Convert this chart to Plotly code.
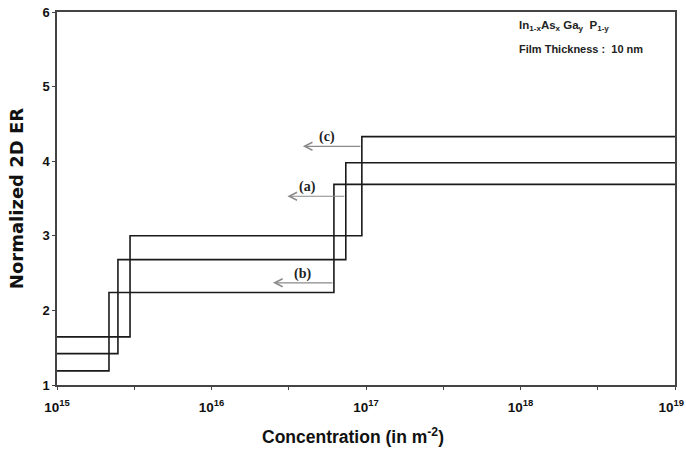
import math
import plotly.graph_objects as go

# ---- data ----
x_start = 1e15
x_end = 1e19
series_names = ["(a)", "(b)", "(c)"]
step_x_a = [2.48e15, 7.4e16]
step_y_a = [1.42, 2.68, 3.98]
step_x_b = [2.17e15, 6.2e16]
step_y_b = [1.19, 2.24, 3.69]
step_x_c = [2.97e15, 9.4e16]
step_y_c = [1.645, 3.0, 4.33]
x_tickvals = [1e15, 1e16, 1e17, 1e18, 1e19]
x_ticktext = ["10<sup>15</sup>", "10<sup>16</sup>", "10<sup>17</sup>", "10<sup>18</sup>",
              "10<sup>19</sup>&nbsp;&nbsp;"]
x_minor = [10**15.5, 10**16.5, 10**17.5, 10**18.5]
y_tickvals = [1, 2, 3, 4, 5, 6]

FONT = "Liberation Sans, Arial, sans-serif"
WIDE = "DejaVu Sans, Liberation Sans, sans-serif"
SERIF = "Liberation Serif, Times New Roman, serif"

fig = go.Figure()

def add_step(sx, sy):
    xs = [x_start] + sx + [x_end]
    ys = sy + [sy[-1]]
    fig.add_trace(go.Scatter(x=xs, y=ys, mode="lines", line_shape="hv",
                             line=dict(color="#1a1a1a", width=1.6),
                             showlegend=False, hoverinfo="skip", cliponaxis=False))

add_step(step_x_a, step_y_a)
add_step(step_x_b, step_y_b)
add_step(step_x_c, step_y_c)

# arrows (tail at the second step of each curve, pointing left)
arrows = [
    (step_x_c[1], 3.9e16, 4.2, "(c)", 5.6e16, 4.32),
    (step_x_a[1], 3.1e16, 3.53, "(a)", 4.2e16, 3.65),
    (step_x_b[1], 2.5e16, 2.37, "(b)", 3.9e16, 2.49),
]
for tail_x, head_x, y, label, lx, ly in arrows:
    fig.add_annotation(x=math.log10(head_x), y=y, ax=math.log10(tail_x), ay=y,
                       xref="x", yref="y", axref="x", ayref="y",
                       showarrow=True, arrowhead=5, arrowsize=1.3, arrowwidth=1.2,
                       arrowcolor="#8a8a8a", text="")
    fig.add_annotation(x=math.log10(lx), y=ly, xref="x", yref="y", text="<b>" + label + "</b>",
                       showarrow=False, font=dict(family=SERIF, size=14, color="#222"))

fig.add_annotation(x=0.745, y=0.962, xref="paper", yref="paper", xanchor="left", yanchor="middle",
                   text="<b>In<sub>1-x</sub>As<sub>x</sub> Ga<sub>y</sub>  P<sub>1-y</sub></b>",
                   showarrow=False, font=dict(family=FONT, size=11.5, color="#222"))
fig.add_annotation(x=0.745, y=0.9, xref="paper", yref="paper", xanchor="left", yanchor="middle",
                   text="<b>Film Thickness :  10 nm</b>",
                   showarrow=False, font=dict(family=FONT, size=11, color="#222"))

# x-axis title (placed as annotation to match the original's slightly off-centre position)
fig.add_annotation(x=0.479, y=-0.137, xref="paper", yref="paper", xanchor="center", yanchor="middle",
                   text="<b>Concentration (in m<sup>-2</sup>)</b>", showarrow=False,
                   font=dict(family=FONT, size=17.5, color="#111"))

fig.update_layout(
    width=686, height=449,
    margin=dict(l=57, r=11, t=12, b=64),
    paper_bgcolor="white", plot_bgcolor="white",
    font=dict(family=FONT, color="#111"),
    xaxis=dict(type="log", range=[15, 19], tickvals=x_tickvals, ticktext=x_ticktext,
               automargin=False, ticklabeloverflow="allow", ticklabelstandoff=6,
               showgrid=False, zeroline=False, showline=True, linecolor="#444", linewidth=1.5,
               mirror=True, ticks="outside", ticklen=3, tickcolor="#444",
               minor=dict(tickvals=x_minor, ticks="outside", ticklen=3, tickcolor="#444"),
               tickfont=dict(family=FONT, size=13.5, color="#111", weight="bold")),
    yaxis=dict(range=[1, 6], tickvals=y_tickvals,
               automargin=False, ticklabeloverflow="allow",
               showgrid=False, zeroline=False, showline=True, linecolor="#444", linewidth=1.5,
               mirror=True, ticks="outside", ticklen=3, tickcolor="#444",
               tickfont=dict(family=FONT, size=13, color="#111", weight="bold"),
               title=dict(text="<b>Normalized 2D ER</b>",
                          font=dict(family=WIDE, size=18, color="#111"), standoff=14)),
)

fig.write_html("out.html")
